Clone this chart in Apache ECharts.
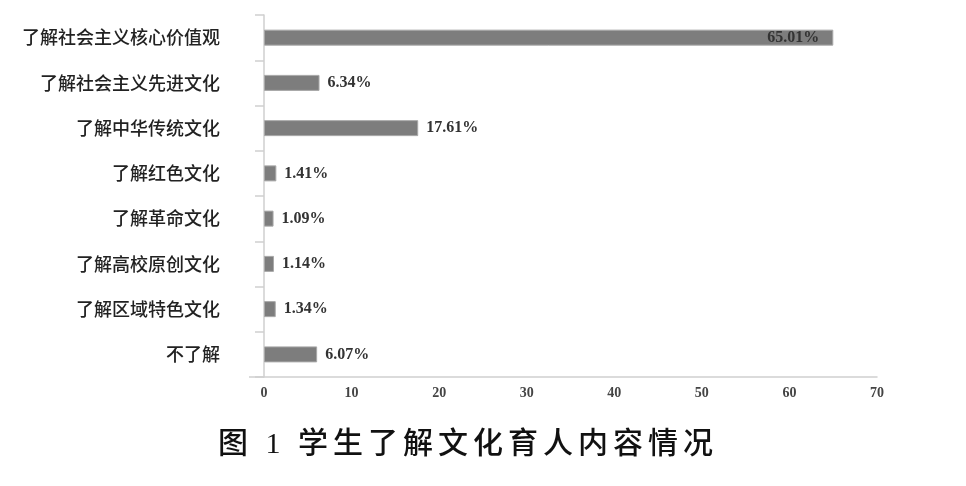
<!DOCTYPE html>
<html>
<head>
<meta charset="utf-8">
<script src="https://cdn.jsdelivr.net/npm/echarts@6/dist/echarts.min.js"></script>
<style>
html,body{margin:0;padding:0;background:#fff;}
#wrap{position:relative;width:966px;height:486px;}
#c{width:966px;height:486px;}
#title{position:absolute;left:218px;top:424px;font-family:'Liberation Serif','Noto Sans CJK SC',serif;font-size:30px;font-weight:500;line-height:38px;letter-spacing:5px;color:#111;white-space:pre;}
</style>
</head>
<body>
<div id="wrap">
<div id="c"></div>
<div id="title"></div>
</div>
<script>
const categories = ['了解社会主义核心价值观','了解社会主义先进文化','了解中华传统文化','了解红色文化','了解革命文化','了解高校原创文化','了解区域特色文化','不了解'];
const values = [65.01, 6.34, 17.61, 1.41, 1.09, 1.14, 1.34, 6.07];
const xTicks = [0, 10, 20, 30, 40, 50, 60, 70];
const titleText = '图 1 学生了解文化育人内容情况';

document.getElementById('title').textContent = titleText;

const chart = echarts.init(document.getElementById('c'), null, {renderer: 'canvas'});
const gridLeft = 264, gridRight = 89, gridTop = 15, gridBottom = 109;
const option = {
  backgroundColor: '#fff',
  animation: false,
  grid: {left: gridLeft, right: gridRight, top: gridTop, bottom: gridBottom, containLabel: false},
  xAxis: {
    type: 'value', min: xTicks[0], max: xTicks[xTicks.length-1], interval: 10,
    axisLine: {show: true, lineStyle: {color: '#cfcfcf', width: 1.5}},
    axisTick: {show: false},
    splitLine: {show: false},
    axisLabel: {margin: 9, fontFamily: 'Liberation Serif', fontSize: 14, fontWeight: 'bold', color: '#444'}
  },
  yAxis: {
    type: 'category', data: categories, inverse: true,
    axisLine: {show: true, lineStyle: {color: '#cfcfcf', width: 1.5}},
    axisTick: {show: true, length: 9, lineStyle: {color: '#cfcfcf', width: 1.5}},
    axisLabel: {margin: 44, fontFamily: 'Noto Sans CJK SC', fontSize: 18, fontWeight: 500, color: '#222'}
  },
  series: [{
    type: 'bar',
    data: values.map((v, i) => ({
      value: v,
      label: i === 0 ? {position: 'insideRight', distance: 14} : {position: 'right', distance: 8}
    })),
    barWidth: 16,
    itemStyle: {color: '#7d7d7d', borderColor: '#a8a8a8', borderWidth: 1},
    label: {
      show: true,
      formatter: p => p.value.toFixed(2) + '%',
      fontFamily: 'Liberation Serif', fontSize: 16, fontWeight: 'bold', color: '#333'
    }
  }],
  graphic: [{
    type: 'line', z: 10,
    shape: {x1: 249, y1: 486 - gridBottom, x2: gridLeft, y2: 486 - gridBottom},
    style: {stroke: '#cfcfcf', lineWidth: 1.5}
  }]
};
chart.setOption(option);
</script>
</body>
</html>
